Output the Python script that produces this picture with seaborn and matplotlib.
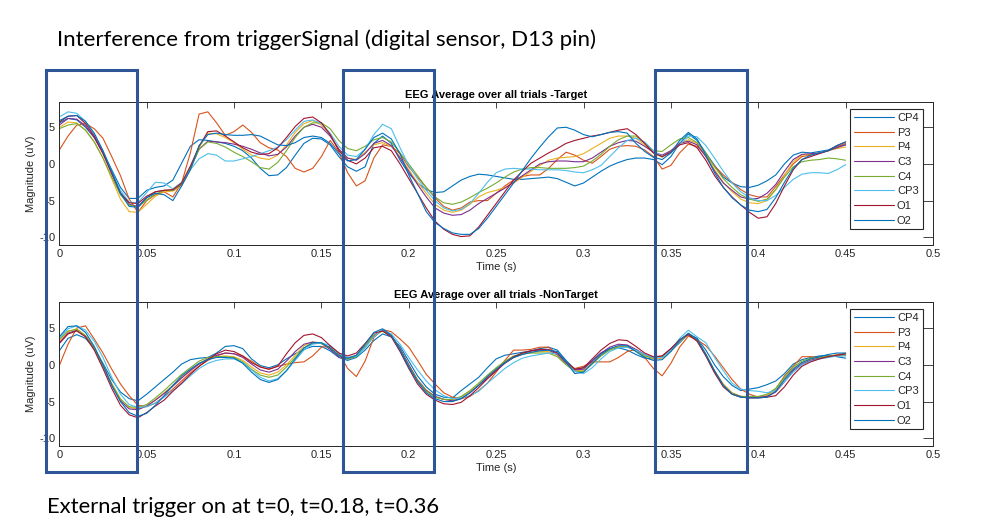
import numpy as np
import pandas as pd
import seaborn as sns
import matplotlib.pyplot as plt
from matplotlib.patches import Rectangle
from matplotlib.lines import Line2D

channels = ['CP4', 'P3', 'P4', 'C3', 'C4', 'CP3', 'O1', 'O2']
channel_colors = ['#0072BD', '#D95319', '#EDB120', '#7E2F8E',
                  '#77AC30', '#4DBEEE', '#A2142F', '#0072BD']

# sample times (s), 5 ms apart, 0 .. 0.45
time_s = np.round(np.arange(91) * 0.005, 3)

# ---- Target trials, average (uV) ----
target_cp4 = [5.6, 6.2, 6.0, 5.0, 3.6, 1.6, -0.8, -3.2, -4.7, -4.7,
              -3.6, -3.2, -3.0, -2.2, 0.1, 2.4, 3.3, 3.2, 3.0, 2.8,
              2.4, 1.8, 0.8, -0.6, -1.6, -1.5, -0.5, 1.2, 2.8, 3.5,
              3.4, 2.6, 1.0, -0.4, -1.0, -0.4, 2.8, 3.8, 2.8, 0.5,
              -1.3, -2.6, -3.5, -3.9, -3.8, -3.0, -2.2, -1.7, -1.4, -1.5,
              -1.7, -1.9, -2.1, -2.1, -2.0, -1.9, -1.8, -2.0, -2.5, -3.0,
              -2.6, -1.8, -1.0, -0.3, 0.2, 0.6, 0.8, 0.8, 0.6, -0.1,
              1.0, 2.8, 4.1, 3.2, 1.5, -0.2, -1.8, -2.6, -3.1, -3.2,
              -2.9, -2.3, -1.5, 0.0, 1.2, 1.6, 1.5, 1.7, 1.9, 2.4,
              2.6]
target_p3 = [1.9, 3.8, 5.3, 5.5, 4.8, 3.5, 1.0, -1.6, -4.8, -6.6,
             -5.0, -4.2, -3.8, -4.5, -2.6, 1.5, 6.8, 7.1, 5.6, 3.9,
             4.4, 5.3, 4.3, 2.9, 2.2, 1.9, 1.0, -0.6, -1.1, -0.6,
             1.0, 3.2, 1.6, -1.2, -3.0, -2.3, 0.8, 2.6, 2.4, 1.4,
             -0.4, -1.8, -3.2, -4.6, -5.8, -6.3, -6.0, -5.2, -5.0, -5.0,
             -4.0, -3.0, -2.2, -1.7, -1.5, -1.5, -0.6, 0.6, 1.6, 1.2,
             0.5, 0.1, 1.0, 2.0, 2.4, 2.5, 2.4, 1.9, 1.0, -0.7,
             -0.2, 1.5, 2.7, 2.4, 1.2, -0.3, -1.5, -2.5, -3.5, -4.2,
             -4.5, -4.5, -3.1, -1.5, 0.0, 1.0, 1.2, 1.5, 1.8, 2.3,
             2.8]
target_p4 = [5.0, 5.7, 5.6, 4.6, 3.0, 0.8, -2.0, -4.8, -6.5, -6.6,
             -5.5, -4.4, -3.8, -3.7, -3.0, -0.8, 2.2, 4.2, 4.1, 3.6,
             2.9, 2.0, 1.2, 0.8, 0.6, 1.2, 2.6, 4.3, 5.5, 5.9,
             5.3, 4.0, 2.0, 0.8, 0.6, 1.6, 2.6, 2.9, 2.4, 1.0,
             -0.8, -2.5, -4.0, -5.5, -6.3, -6.6, -6.3, -5.5, -4.5, -3.9,
             -3.6, -3.2, -2.6, -1.8, -1.0, -0.2, 0.5, 0.8, 0.9, 1.0,
             1.4, 2.1, 2.8, 3.5, 3.8, 3.8, 3.5, 2.6, 1.5, 0.9,
             1.8, 2.8, 3.3, 2.8, 1.2, -0.8, -2.5, -3.8, -4.8, -5.3,
             -5.4, -5.0, -3.5, -1.6, 0.3, 1.2, 1.3, 1.5, 1.8, 2.1,
             2.3]
target_c3 = [5.3, 6.2, 6.1, 5.2, 3.6, 1.4, -1.3, -3.9, -5.5, -5.8,
             -4.6, -3.8, -3.6, -3.6, -2.8, -0.6, 2.0, 3.1, 3.0, 2.9,
             2.7, 2.4, 2.0, 1.5, 1.1, 1.3, 2.3, 3.8, 5.0, 5.4,
             5.0, 3.8, 2.0, 0.8, 0.5, 1.4, 2.8, 3.2, 2.5, 0.8,
             -1.0, -2.8, -4.5, -6.0, -6.7, -7.0, -6.9, -6.3, -5.4, -4.7,
             -4.0, -3.3, -2.5, -1.6, -0.8, 0.0, 0.3, 0.4, 0.4, 0.3,
             0.3, 0.8, 1.6, 2.4, 2.9, 3.2, 3.1, 2.4, 1.6, 1.2,
             1.8, 2.8, 3.1, 2.6, 1.0, -1.0, -2.6, -3.6, -4.5, -4.8,
             -4.7, -4.0, -2.8, -1.0, 0.6, 1.3, 1.4, 1.5, 1.8, 2.2,
             2.6]
target_c4 = [4.8, 5.3, 5.5, 4.6, 3.0, 0.8, -1.8, -4.2, -5.6, -5.9,
             -4.9, -4.1, -3.6, -3.6, -2.7, -0.5, 2.0, 3.0, 2.8, 2.3,
             1.6, 1.0, 0.3, -0.5, -0.7, 0.2, 1.8, 3.6, 5.0, 5.6,
             5.6, 4.8, 3.2, 2.1, 1.8, 2.4, 3.3, 3.6, 3.0, 1.5,
             0.0, -1.6, -3.2, -4.5, -5.3, -5.5, -5.2, -4.6, -3.9, -3.3,
             -2.6, -1.8, -1.1, -0.7, -0.5, -0.5, -0.6, -0.6, -0.6, -0.5,
             -0.3, 0.4, 1.3, 2.4, 3.3, 3.8, 3.8, 2.8, 1.8, 1.7,
             2.6, 3.4, 3.6, 2.9, 1.5, -0.4, -2.0, -3.2, -4.2, -4.8,
             -5.1, -4.8, -3.5, -1.8, -0.4, 0.3, 0.5, 0.6, 0.8, 0.7,
             0.5]
target_cp3 = [6.4, 7.1, 6.9, 5.8, 4.0, 1.8, -1.0, -3.6, -5.2, -5.3,
              -3.9, -2.5, -2.6, -3.4, -2.5, -0.8, 0.7, 1.4, 1.2, 0.4,
              0.4, 0.7, 1.0, 1.4, 1.8, 2.3, 3.3, 4.6, 5.8, 6.0,
              5.5, 4.2, 2.4, 1.2, 1.0, 2.0, 4.0, 5.4, 4.8, 2.2,
              -0.2, -2.0, -3.6, -5.0, -6.0, -6.4, -6.2, -5.4, -4.0, -2.5,
              -1.2, -0.7, -0.6, -0.7, -0.7, -0.8, -0.8, -0.8, -0.9, -1.1,
              -1.2, -0.8, -0.2, 1.0, 2.2, 3.2, 3.5, 3.0, 1.8, 1.0,
              1.5, 2.6, 3.8, 3.7, 2.5, 0.8, -1.0, -2.6, -3.8, -4.6,
              -5.0, -5.0, -4.3, -3.2, -2.1, -1.4, -1.2, -1.2, -1.3, -0.8,
              -0.1]
target_o1 = [5.7, 6.5, 6.6, 5.5, 3.8, 1.5, -1.3, -4.0, -5.3, -5.4,
             -4.4, -3.8, -3.6, -3.5, -2.6, -0.3, 2.4, 4.4, 4.5, 3.8,
             3.0, 2.2, 1.6, 1.3, 1.4, 2.2, 3.6, 5.1, 6.2, 6.4,
             5.6, 4.0, 1.8, 0.5, 0.0, 0.8, 2.2, 2.4, 1.8, 0.0,
             -2.0, -4.0, -6.0, -7.8, -8.9, -9.6, -9.9, -9.8, -8.6, -7.0,
             -5.4, -3.8, -2.2, -1.0, 0.1, 0.8, 1.5, 2.1, 2.8, 3.2,
             3.5, 3.8, 4.0, 4.3, 4.6, 4.8, 4.0, 2.8, 1.5, 1.0,
             1.6, 2.6, 2.9, 2.2, 0.5, -1.6, -3.2, -4.5, -5.6, -6.6,
             -7.4, -7.2, -5.4, -3.0, -0.8, 0.6, 1.0, 1.4, 1.8, 2.5,
             3.0]
target_o2 = [5.9, 6.5, 6.6, 5.8, 4.2, 1.8, -1.0, -4.0, -5.8, -5.9,
             -4.6, -4.0, -4.2, -5.0, -3.0, -0.8, 2.5, 4.0, 4.2, 4.0,
             3.9, 3.9, 4.0, 3.8, 3.2, 2.6, 2.5, 2.9, 3.6, 3.8,
             3.6, 2.8, 1.4, 0.4, 0.6, 2.0, 3.6, 4.2, 3.4, 1.4,
             -1.5, -4.0, -6.5, -8.0, -8.8, -9.4, -9.6, -9.6, -8.8, -7.4,
             -5.8, -4.2, -2.6, -0.9, 0.8, 2.3, 3.7, 4.9, 5.0, 4.6,
             4.0, 3.7, 4.0, 4.3, 4.4, 4.2, 2.8, 1.7, 0.9, 0.6,
             1.5, 3.2, 4.3, 3.4, 1.2, -1.2, -3.2, -4.6, -5.6, -6.3,
             -6.5, -6.2, -4.6, -2.5, -0.6, 0.6, 1.2, 1.5, 1.8, 2.5,
             3.0]

# ---- NonTarget trials, average (uV) ----
nontarget_cp4 = [1.9, 3.6, 4.1, 3.6, 2.2, 0.2, -2.0, -3.7, -4.6, -4.9,
                 -4.0, -3.0, -2.0, -1.0, 0.1, 0.7, 0.9, 1.0, 1.6, 2.5,
                 2.6, 2.2, 0.8, -0.1, -0.4, 0.0, 0.8, 1.5, 2.1, 2.5,
                 2.5, 1.9, 1.0, 0.6, 1.0, 2.0, 3.3, 4.2, 3.8, 2.5,
                 0.5, -1.5, -3.0, -4.0, -4.4, -4.5, -3.5, -2.6, -1.7, -0.4,
                 0.8, 1.3, 1.5, 1.7, 1.9, 2.2, 2.4, 2.0, 0.6, -0.6,
                 -0.4, 0.6, 1.6, 2.2, 2.3, 2.0, 1.4, 0.9, 0.8, 1.0,
                 1.9, 3.0, 4.2, 3.6, 2.0, 0.0, -1.6, -2.8, -3.5, -3.3,
                 -3.1, -2.7, -2.2, -1.2, 0.1, 0.7, 1.0, 1.2, 1.3, 1.1,
                 0.9]
nontarget_p3 = [-0.1, 2.8, 5.0, 5.3, 3.5, 1.6, -0.6, -2.6, -4.2, -5.5,
                -5.7, -5.2, -4.3, -3.3, -2.2, -1.1, -0.2, 0.6, 1.2, 1.6,
                1.5, 1.2, 0.5, -0.3, -0.6, -0.2, 0.1, 0.3, 0.4, 1.2,
                2.4, 2.5, 1.6, -0.5, -1.6, 0.5, 3.7, 4.8, 4.5, 3.5,
                2.4, 0.6, -1.3, -2.6, -3.8, -4.4, -4.6, -4.3, -3.5, -2.5,
                -1.0, 0.6, 2.0, 2.0, 2.1, 2.4, 2.4, 1.5, 0.3, -0.5,
                -0.2, 0.4, 0.4, 0.4, 1.0, 1.8, 2.1, 1.0, -0.5, -1.5,
                0.2, 2.4, 3.9, 3.4, 2.6, 1.2, -0.4, -2.0, -3.3, -4.0,
                -4.4, -4.2, -3.3, -1.5, -0.2, 1.1, 1.1, 1.0, 1.1, 1.2,
                1.3]
nontarget_p4 = [3.3, 4.5, 4.9, 4.0, 2.4, 0.0, -2.5, -4.6, -5.8, -6.0,
                -5.6, -4.8, -3.8, -2.8, -1.7, -0.7, 0.2, 0.8, 1.1, 1.2,
                1.1, 0.6, -0.3, -1.1, -1.4, -1.0, 0.0, 1.3, 2.6, 3.1,
                3.0, 2.2, 1.3, 0.9, 1.3, 2.6, 4.0, 4.6, 4.0, 2.2,
                0.0, -2.0, -3.4, -4.3, -4.7, -4.8, -4.4, -3.6, -2.7, -1.6,
                -0.6, 0.3, 1.0, 1.4, 1.7, 1.8, 1.8, 1.3, 0.2, -0.8,
                -0.8, 0.2, 1.3, 2.1, 2.5, 2.5, 2.0, 1.2, 0.8, 0.9,
                1.9, 3.2, 4.1, 3.3, 1.5, -0.8, -2.6, -3.8, -4.3, -4.4,
                -4.4, -4.2, -3.4, -1.9, -0.5, 0.3, 0.7, 0.9, 1.1, 1.4,
                1.6]
nontarget_c3 = [3.0, 4.3, 4.7, 3.9, 2.3, -0.1, -2.7, -4.9, -6.0, -6.1,
                -5.6, -4.8, -3.9, -2.9, -1.8, -0.8, 0.1, 0.8, 1.3, 1.6,
                1.5, 1.0, 0.1, -0.7, -1.0, -0.6, 0.5, 1.8, 2.8, 3.1,
                2.9, 2.1, 1.1, 0.8, 1.2, 2.5, 4.0, 4.7, 4.0, 2.2,
                0.0, -2.1, -3.5, -4.3, -4.7, -4.9, -4.6, -3.8, -2.8, -1.8,
                -0.8, 0.2, 1.0, 1.5, 1.9, 2.0, 2.0, 1.4, 0.2, -0.7,
                -0.6, 0.5, 1.6, 2.4, 2.8, 2.7, 2.1, 1.4, 1.0, 1.2,
                2.2, 3.4, 4.2, 3.4, 1.4, -0.9, -2.8, -3.9, -4.3, -4.4,
                -4.4, -4.3, -3.7, -2.3, -0.8, 0.1, 0.6, 0.9, 1.1, 1.3,
                1.5]
nontarget_c4 = [3.5, 4.6, 4.8, 3.9, 2.2, -0.2, -2.7, -4.7, -5.7, -5.8,
                -5.4, -4.5, -3.5, -2.4, -1.3, -0.4, 0.5, 1.0, 1.1, 1.1,
                1.0, 0.4, -0.6, -1.4, -1.7, -1.4, -0.3, 1.0, 2.3, 2.9,
                2.9, 2.3, 1.3, 0.8, 1.1, 2.5, 4.0, 4.6, 3.9, 2.0,
                -0.2, -2.2, -3.6, -4.4, -4.7, -4.7, -4.3, -3.5, -2.5, -1.4,
                -0.4, 0.5, 1.2, 1.5, 1.6, 1.6, 1.6, 1.1, 0.0, -0.9,
                -0.9, 0.1, 1.2, 2.0, 2.4, 2.4, 1.9, 1.2, 0.9, 1.1,
                2.0, 3.3, 4.1, 3.3, 1.3, -1.0, -2.8, -3.9, -4.3, -4.3,
                -4.3, -4.0, -3.2, -1.7, -0.3, 0.5, 0.9, 1.0, 1.2, 1.3,
                1.3]
nontarget_cp3 = [3.6, 4.9, 5.3, 4.7, 3.2, 1.0, -1.7, -4.0, -5.4, -5.8,
                 -5.7, -5.2, -4.4, -3.5, -2.6, -1.5, -0.5, 0.2, 0.6, 0.8,
                 0.8, 0.3, -0.7, -1.7, -2.2, -1.9, -0.8, 0.6, 2.0, 2.8,
                 3.0, 2.6, 1.6, 1.0, 1.2, 2.3, 3.8, 4.8, 4.2, 2.8,
                 1.0, -0.7, -2.2, -3.4, -4.2, -4.6, -4.5, -4.2, -3.6, -2.5,
                 -1.5, -0.5, 0.3, 0.9, 1.2, 1.4, 1.6, 1.5, 0.4, -0.9,
                 -1.2, -0.4, 0.8, 1.8, 2.3, 2.4, 2.0, 1.4, 1.0, 1.0,
                 2.0, 3.6, 4.7, 3.8, 3.0, 1.0, -0.8, -2.5, -3.3, -3.5,
                 -3.6, -3.8, -3.5, -2.3, -1.0, 0.0, 0.5, 0.8, 1.0, 1.2,
                 1.2]
nontarget_o1 = [2.9, 4.2, 4.6, 3.8, 2.0, -0.5, -3.2, -5.5, -6.8, -7.2,
                -6.5, -5.6, -4.8, -3.6, -2.5, -1.3, -0.2, 0.7, 1.5, 2.0,
                1.8, 1.2, 0.3, -0.3, -0.6, -0.2, 1.5, 3.0, 4.0, 4.2,
                3.7, 2.6, 1.6, 1.2, 1.6, 2.9, 4.3, 4.6, 3.8, 1.8,
                -0.5, -2.6, -4.0, -4.8, -5.3, -5.4, -5.1, -4.2, -3.1, -1.9,
                -0.8, 0.3, 1.1, 1.6, 1.9, 2.1, 2.1, 1.6, 0.4, -0.6,
                -0.4, 0.8, 2.0, 2.9, 3.4, 3.3, 2.5, 1.6, 1.1, 1.2,
                2.2, 3.4, 4.1, 3.2, 1.2, -1.1, -3.0, -4.0, -4.4, -4.5,
                -4.5, -4.4, -4.2, -3.0, -1.4, -0.2, 0.4, 0.8, 1.1, 1.3,
                1.5]
nontarget_o2 = [3.8, 5.2, 5.3, 4.4, 2.5, 0.0, -2.8, -5.0, -6.5, -7.0,
                -6.6, -5.5, -4.2, -2.8, -1.5, -0.6, 0.2, 0.7, 1.0, 1.0,
                0.9, 0.2, -1.0, -2.0, -2.4, -2.0, -0.8, 0.8, 2.3, 3.0,
                3.0, 2.3, 1.3, 0.9, 1.3, 2.8, 4.4, 4.9, 4.0, 2.0,
                -0.3, -2.3, -3.8, -4.6, -5.0, -5.0, -4.6, -3.8, -2.8, -1.6,
                -0.6, 0.3, 1.0, 1.4, 1.7, 1.9, 2.0, 1.8, 0.4, -1.2,
                -1.0, 0.2, 1.4, 2.2, 2.6, 2.6, 1.8, 1.0, 0.6, 0.7,
                1.8, 3.3, 4.3, 3.5, 1.4, -0.8, -2.8, -4.0, -4.4, -4.5,
                -4.5, -4.4, -3.6, -2.0, -0.6, 0.3, 0.8, 1.1, 1.4, 1.6,
                1.6]

target_series = [target_cp4, target_p3, target_p4, target_c3,
                 target_c4, target_cp3, target_o1, target_o2]
nontarget_series = [nontarget_cp4, nontarget_p3, nontarget_p4, nontarget_c3,
                    nontarget_c4, nontarget_cp3, nontarget_o1, nontarget_o2]

panel_titles = ['EEG Average over all trials -Target',
                'EEG Average over all trials -NonTarget']
slide_heading = 'Interference from triggerSignal (digital sensor, D13 pin)'
slide_footer = 'External trigger on at t=0, t=0.18, t=0.36'


def build_frame(series):
    parts = []
    for ch, vals in zip(channels, series):
        parts.append(pd.DataFrame({'time': time_s, 'uV': vals, 'channel': ch}))
    return pd.concat(parts, ignore_index=True)


sns.set_theme(style='white')
plt.rcParams['font.family'] = ['Liberation Sans', 'DejaVu Sans']
plt.rcParams['axes.unicode_minus'] = False

W, H = 981, 527
fig = plt.figure(figsize=(W / 100, H / 100), dpi=100)
fig.patch.set_facecolor('white')

# axes boxes in pixels: (left, top, right, bottom)
ax_boxes = [(59.3, 102.3, 933, 245), (59.3, 302.3, 933, 445.7)]
ylims = [(-11.05, 8.4), (-11.0, 8.5)]
ink = '#262626'

for box, ylim, series, title in zip(ax_boxes, ylims, [target_series, nontarget_series], panel_titles):
    l, t, r, b = box
    ax = fig.add_axes([l / W, 1 - b / H, (r - l) / W, (b - t) / H])
    df = build_frame(series)
    sns.lineplot(data=df, x='time', y='uV', hue='channel', hue_order=channels,
                 palette=channel_colors, estimator=None, sort=False,
                 linewidth=0.8, legend=False, ax=ax)
    ax.set_xlim(0, 0.5)
    ax.set_ylim(*ylim)
    ax.set_xticks(np.arange(0, 0.501, 0.05))
    ax.xaxis.set_major_formatter(lambda v, p: f'{v:g}')
    ax.set_yticks([-10, -5, 0, 5])
    ax.tick_params(axis='both', direction='in', top=True, right=True,
                   width=0.6, color=ink, labelcolor=ink, labelsize=8, pad=3)
    ax.tick_params(axis='x', length=4.3)
    ax.tick_params(axis='y', length=7)
    for sp in ax.spines.values():
        sp.set_visible(True)
        sp.set_linewidth(0.7)
        sp.set_color(ink)
    ax.set_title(title, fontsize=8, fontweight='bold', pad=3, color='black')
    ax.set_xlabel('Time (s)', fontsize=8, color=ink, labelpad=2)
    ax.set_ylabel('Magnitude (uV)', fontsize=8, color=ink, labelpad=2)

    handles = [Line2D([], [], color=c, lw=0.8) for c in channel_colors]
    leg = ax.legend(handles, channels, loc='upper right', bbox_to_anchor=(0.988, 0.953),
                    borderaxespad=0, fontsize=8, frameon=True, fancybox=False,
                    framealpha=1, edgecolor=ink, handlelength=3.6, handletextpad=0.3,
                    labelspacing=0.42, borderpad=0.35)
    leg.get_frame().set_linewidth(0.8)

# slide annotation boxes (pixels: x0, x1) spanning both panels
box_color = '#2E5597'
for x0, x1 in [(46, 136.7), (343.3, 434), (655, 746.7)]:
    y0, y1 = 70, 471.5
    rect = Rectangle((x0 / W, 1 - y1 / H), (x1 - x0) / W, (y1 - y0) / H,
                     transform=fig.transFigure, fill=False, edgecolor=box_color,
                     linewidth=2.2, zorder=10)
    fig.add_artist(rect)

head = fig.text(57 / W, 1 - 40 / H, slide_heading, fontsize=14, va='center', ha='left',
                family=['Lato', 'DejaVu Sans'], color='black')
foot = fig.text(47 / W, 1 - 507 / H, slide_footer, fontsize=14, va='center', ha='left',
                family=['Lato', 'DejaVu Sans'], color='black')

# fit slide texts to their measured widths
fig.canvas.draw()
renderer = fig.canvas.get_renderer()
for txt, target_px in [(head, 538), (foot, 393)]:
    w = txt.get_window_extent(renderer).width
    txt.set_fontsize(txt.get_fontsize() * target_px / w)

fig.savefig('out.png', dpi=100, facecolor='white')
